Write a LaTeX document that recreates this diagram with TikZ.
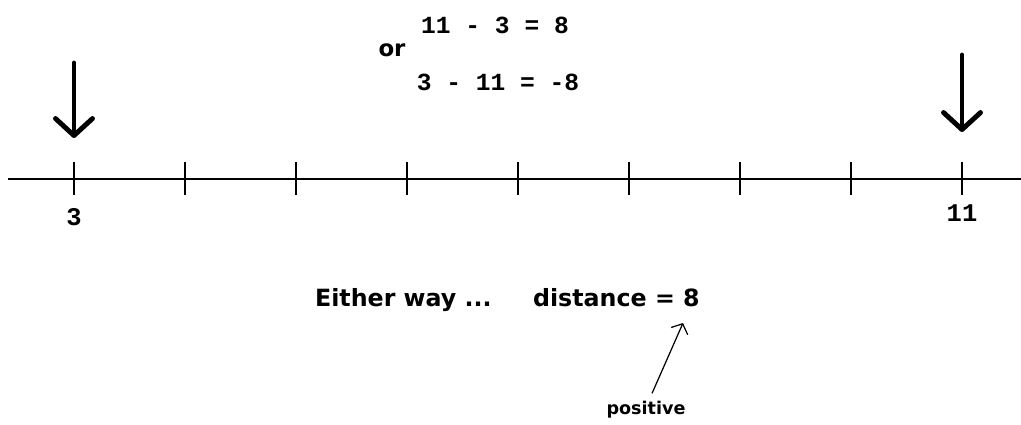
\documentclass[tikz,border=0pt]{standalone}
\usepackage{fontspec}
\setmainfont{DejaVu Sans}
\setmonofont{Liberation Mono}
\usetikzlibrary{arrows.meta, positioning}

\begin{document}
\begin{tikzpicture}[
	% styles
	ligne/.style={line width=1.6pt},
	graduation/.style={line width=1.6pt},
	grosseFleche/.style={line width=2.8pt, line cap=round, -{Straight Barb[length=3.4mm, width=7.4mm, round]}},
	petiteFleche/.style={line width=0.7pt, -{Straight Barb[length=1.6mm, width=3.6mm]}},
	nombre/.style={font=\fontsize{14.5}{16}\selectfont\ttfamily\bfseries, inner sep=1pt},
	calcul/.style={font=\fontsize{14}{16}\selectfont\ttfamily\bfseries, inner sep=1pt},
	texte/.style={font=\fontsize{13.5}{15}\selectfont\bfseries, inner sep=1pt},
	]
	
	\useasboundingbox (0,0) rectangle (20.42,8.48);
	
	% droite graduee
	\coordinate (debut) at (0.16,4.9);
	\coordinate (fin) at (20.42,4.9);
	\draw[ligne] (debut) -- (fin);
	\foreach \i in {0,...,8}
	\draw[graduation] ({1.48+2.22*\i},5.24) -- ({1.48+2.22*\i},4.58);
	
	\coordinate (trois) at (1.48,4.9);
	\coordinate (onze) at (19.24,4.9);
	\node[nombre] (labelTrois) at (1.48,4.14) {3};
	\node[nombre] (labelOnze) at (19.24,4.22) {11};
	
	% fleches du haut
	\coordinate (hautTrois) at (1.48,7.22);
	\coordinate (basTrois) at (1.48,5.72);
	\coordinate (hautOnze) at (19.24,7.38);
	\coordinate (basOnze) at (19.24,5.84);
	\draw[grosseFleche] (hautTrois) -- (basTrois);
	\draw[grosseFleche] (hautOnze) -- (basOnze);
	
	% calculs
	\node[calcul] (calculA) at (9.9,7.98) {11 - 3 = 8};
	\node[texte, font=\fontsize{13}{15}\selectfont\bfseries] (ou) at (7.84,7.48) {or};
	\node[calcul] (calculB) at (9.96,6.84) {3 - 11 = -8};
	
	% conclusion
	\node[texte, anchor=west] (deToute) at (6.26,2.48) {Either way ...};
	\node[texte, anchor=west] (distance) at (10.62,2.52) {distance = 8};
	\node[texte, font=\fontsize{10}{12}\selectfont\bfseries] (positif) at (12.92,0.28) {positive};
	\coordinate (sousHuit) at (13.66,2.02);
	\draw[petiteFleche] (positif.north) ++(0.12,0.12) coordinate (queue) -- (sousHuit);
	
\end{tikzpicture}
\end{document}
